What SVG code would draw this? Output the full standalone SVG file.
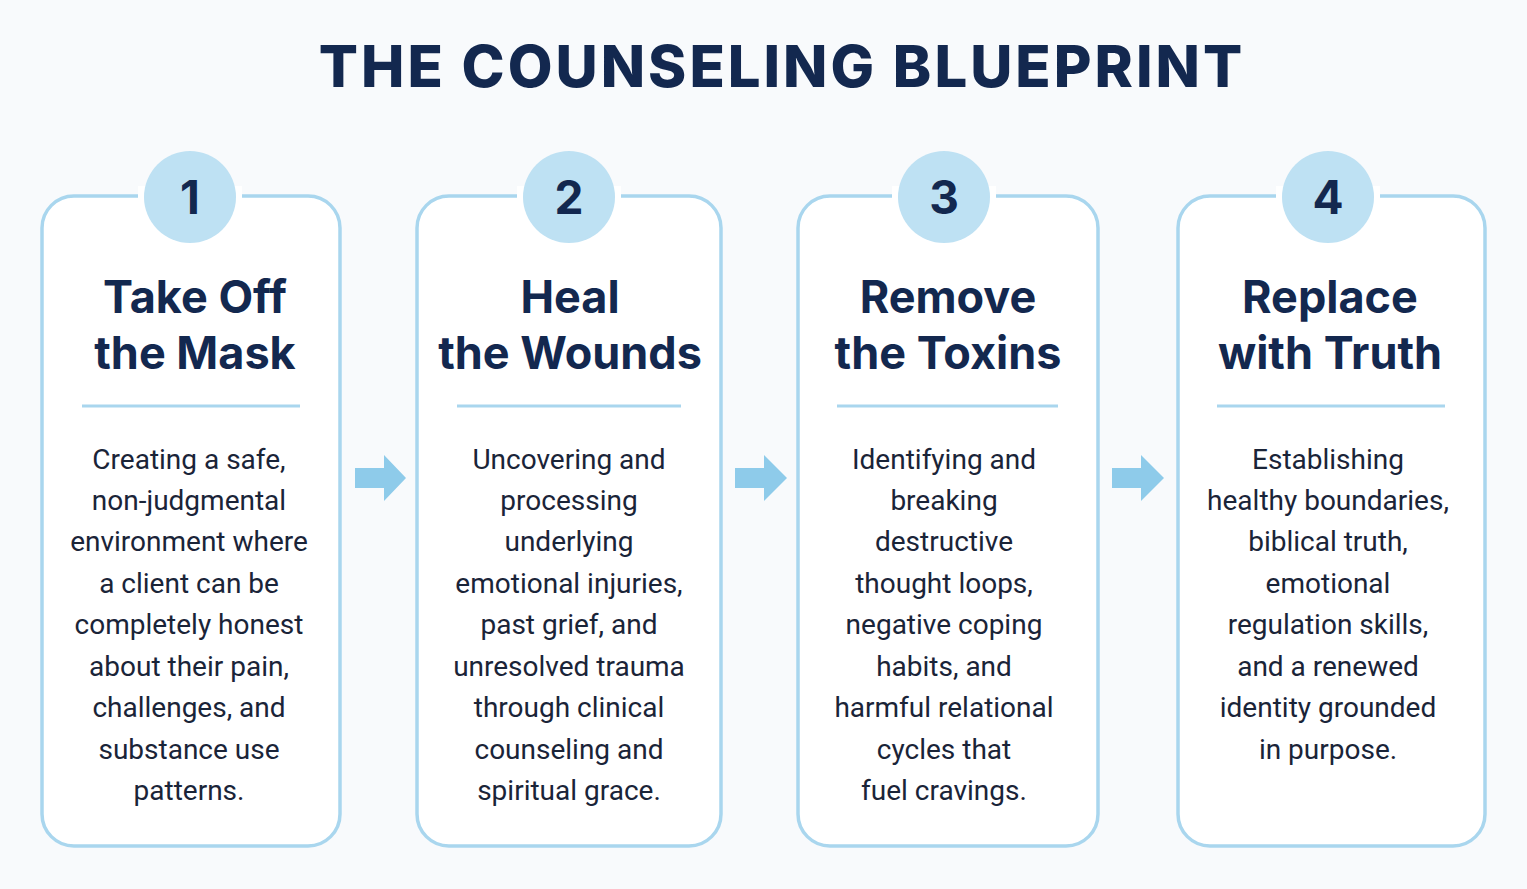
<svg xmlns="http://www.w3.org/2000/svg" width="1527" height="889" viewBox="0 0 1527 889">
<style>
.card{fill:#fff;stroke:#a9d6ee;stroke-width:3.5}
.num{fill:#bee1f3}
.nt{font-family:Inter,"Open Sans",sans-serif;font-weight:700;font-size:46px;fill:#13284f;text-anchor:middle}
.tt{font-family:Inter,"Open Sans",sans-serif;font-weight:700;font-size:45px;fill:#13284f;text-anchor:middle}
.bd{font-family:Roboto,"Open Sans",sans-serif;font-size:28px;fill:#1a2438;text-anchor:middle}
.dv{stroke:#a9d6ee;stroke-width:3}
.ar{fill:#8ecbea}
</style>
<rect width="1527" height="889" fill="#f8fafc"/>
<text x="782" y="87" font-family="Inter,'Open Sans',sans-serif" font-weight="800" font-size="58" letter-spacing="3" fill="#13284f" text-anchor="middle">THE COUNSELING BLUEPRINT</text>
<g id="step1">
<rect class="card" x="42" y="196" width="298" height="650" rx="32"/>
<rect x="138" y="186" width="104" height="20" fill="#fff"/>
<circle class="num" cx="190" cy="197" r="46"/><text class="nt" x="190" y="214">1</text>
<text class="tt" x="195" y="313">Take Off</text><text class="tt" x="195" y="369">the Mask</text>
<line class="dv" x1="82" y1="406" x2="300" y2="406"/>
<text class="bd" x="189"><tspan x="189" y="469">Creating a safe,</tspan><tspan x="189" y="510">non-judgmental</tspan><tspan x="189" y="551">environment where</tspan><tspan x="189" y="593">a client can be</tspan><tspan x="189" y="634">completely honest</tspan><tspan x="189" y="676">about their pain,</tspan><tspan x="189" y="717">challenges, and</tspan><tspan x="189" y="759">substance use</tspan><tspan x="189" y="800">patterns.</tspan></text>
</g>
<g id="step2">
<rect class="card" x="417" y="196" width="304" height="650" rx="32"/>
<rect x="517" y="186" width="104" height="20" fill="#fff"/>
<circle class="num" cx="569" cy="197" r="46"/><text class="nt" x="569" y="214">2</text>
<text class="tt" x="570" y="313">Heal</text><text class="tt" x="570" y="369">the Wounds</text>
<line class="dv" x1="457" y1="406" x2="681" y2="406"/>
<text class="bd"><tspan x="569" y="469">Uncovering and</tspan><tspan x="569" y="510">processing</tspan><tspan x="569" y="551">underlying</tspan><tspan x="569" y="593">emotional injuries,</tspan><tspan x="569" y="634">past grief, and</tspan><tspan x="569" y="676">unresolved trauma</tspan><tspan x="569" y="717">through clinical</tspan><tspan x="569" y="759">counseling and</tspan><tspan x="569" y="800">spiritual grace.</tspan></text>
</g>
<g id="step3">
<rect class="card" x="798" y="196" width="300" height="650" rx="32"/>
<rect x="892" y="186" width="104" height="20" fill="#fff"/>
<circle class="num" cx="944" cy="197" r="46"/><text class="nt" x="944" y="214">3</text>
<text class="tt" x="948" y="313">Remove</text><text class="tt" x="948" y="369">the Toxins</text>
<line class="dv" x1="837" y1="406" x2="1058" y2="406"/>
<text class="bd"><tspan x="944" y="469">Identifying and</tspan><tspan x="944" y="510">breaking</tspan><tspan x="944" y="551">destructive</tspan><tspan x="944" y="593">thought loops,</tspan><tspan x="944" y="634">negative coping</tspan><tspan x="944" y="676">habits, and</tspan><tspan x="944" y="717">harmful relational</tspan><tspan x="944" y="759">cycles that</tspan><tspan x="944" y="800">fuel cravings.</tspan></text>
</g>
<g id="step4">
<rect class="card" x="1178" y="196" width="307" height="650" rx="32"/>
<rect x="1276" y="186" width="104" height="20" fill="#fff"/>
<circle class="num" cx="1328" cy="197" r="46"/><text class="nt" x="1328" y="214">4</text>
<text class="tt" x="1330" y="313">Replace</text><text class="tt" x="1330" y="369">with Truth</text>
<line class="dv" x1="1217" y1="406" x2="1445" y2="406"/>
<text class="bd"><tspan x="1328" y="469">Establishing</tspan><tspan x="1328" y="510">healthy boundaries,</tspan><tspan x="1328" y="551">biblical truth,</tspan><tspan x="1328" y="593">emotional</tspan><tspan x="1328" y="634">regulation skills,</tspan><tspan x="1328" y="676">and a renewed</tspan><tspan x="1328" y="717">identity grounded</tspan><tspan x="1328" y="759">in purpose.</tspan></text>
</g>
<g id="connectors">
<path class="ar" d="M355 468 H384 V455 L406 478 L384 501 V488 H355 Z"/>
<path class="ar" d="M735 468 H764 V455 L787 478 L764 501 V488 H735 Z"/>
<path class="ar" d="M1112 468 H1141 V455 L1164 478 L1141 501 V488 H1112 Z"/>
</g>
</svg>
